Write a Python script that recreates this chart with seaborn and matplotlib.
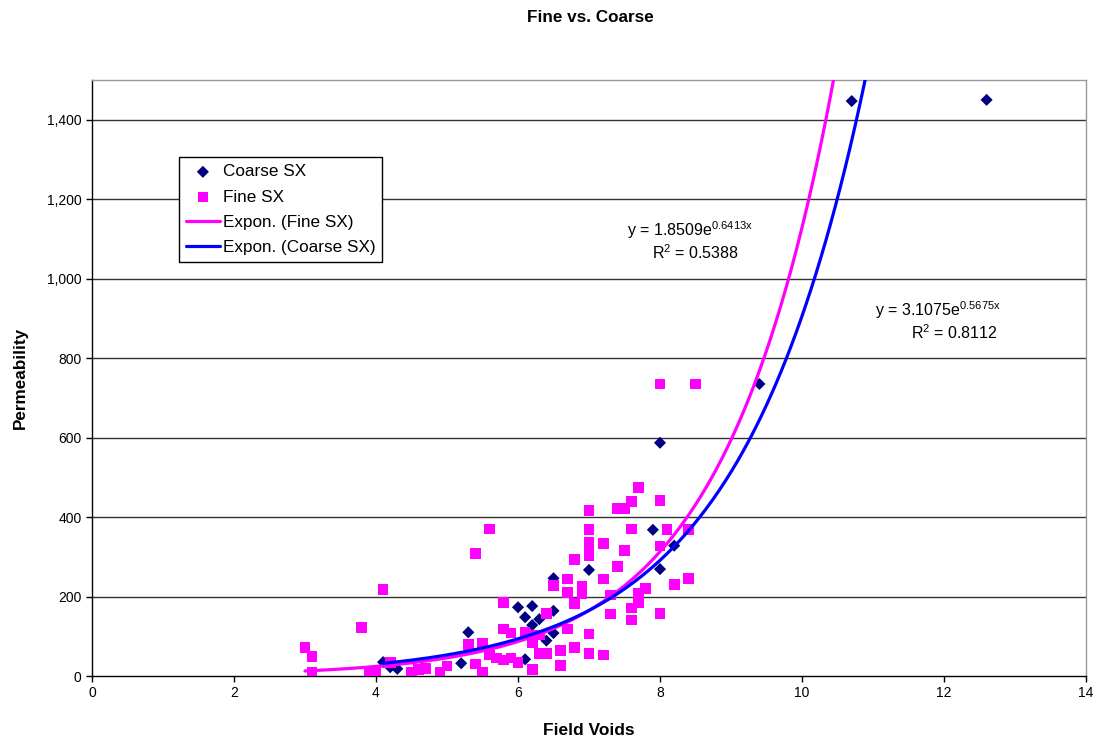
import numpy as np
import pandas as pd
import matplotlib
matplotlib.use("Agg")
import matplotlib.pyplot as plt
import seaborn as sns
from matplotlib.ticker import FuncFormatter

# Coarse SX samples (field voids, permeability)
coarse_x = [4.1, 4.2, 4.3, 5.2, 5.3, 6.0, 6.1, 6.1, 6.2, 6.2, 6.3, 6.4,
            6.5, 6.5, 6.5, 7.0, 7.9, 8.0, 8.0, 8.2, 9.4, 10.7, 12.6]
coarse_y = [35, 22, 18, 32, 110, 173, 148, 42, 176, 128, 143, 89,
            164, 108, 246, 267, 368, 587, 269, 328, 735, 1447, 1450]

# Fine SX samples
fine_x = [3.0, 3.1, 3.1, 3.8, 3.9, 4.0, 4.1, 4.2, 4.5, 4.6, 4.7, 4.9, 5.0,
          5.3, 5.4, 5.4, 5.5, 5.5, 5.6, 5.6, 5.7, 5.8, 5.8, 5.8, 5.9, 5.9,
          6.0, 6.1, 6.2, 6.2, 6.2, 6.3, 6.3, 6.4, 6.4, 6.5, 6.6, 6.6, 6.7,
          6.7, 6.7, 6.8, 6.8, 6.8, 6.9, 6.9, 7.0, 7.0, 7.0, 7.0, 7.0, 7.0,
          7.0, 7.2, 7.2, 7.2, 7.3, 7.3, 7.4, 7.4, 7.5, 7.5, 7.6, 7.6, 7.6,
          7.6, 7.7, 7.7, 7.7, 7.8, 8.0, 8.0, 8.0, 8.0, 8.1, 8.2, 8.4, 8.4, 8.5]
fine_y = [72, 49, 9, 123, 11, 9, 218, 34, 9, 17, 19, 9, 25,
          80, 309, 30, 82, 9, 370, 53, 45, 185, 118, 40, 108, 45,
          34, 109, 101, 84, 17, 103, 57, 158, 57, 227, 64, 26, 244,
          210, 118, 294, 183, 72, 225, 208, 416, 368, 336, 319, 302, 106,
          57, 333, 244, 53, 204, 156, 421, 275, 421, 316, 439, 370, 171,
          141, 475, 208, 185, 221, 735, 442, 327, 158, 368, 231, 368, 246, 735]

# exponential trendline coefficients shown on the chart
fine_a, fine_b, fine_r2 = 1.8509, 0.6413, 0.5388
coarse_a, coarse_b, coarse_r2 = 3.1075, 0.5675, 0.8112

x_ticks = list(range(0, 15, 2))
y_ticks = list(range(0, 1401, 200))

coarse_df = pd.DataFrame({"Field Voids": coarse_x, "Permeability": coarse_y})
fine_df = pd.DataFrame({"Field Voids": fine_x, "Permeability": fine_y})

fine_tx = np.linspace(min(fine_x), 10.6, 300)
coarse_tx = np.linspace(min(coarse_x), 11.0, 300)
fine_trend = pd.DataFrame({"x": fine_tx, "y": fine_a * np.exp(fine_b * fine_tx)})
coarse_trend = pd.DataFrame({"x": coarse_tx, "y": coarse_a * np.exp(coarse_b * coarse_tx)})

sns.set_style("white")
plt.rcParams["font.family"] = ["Liberation Sans", "DejaVu Sans"]
plt.rcParams["mathtext.fontset"] = "custom"
plt.rcParams["mathtext.rm"] = "Liberation Sans"
plt.rcParams["text.color"] = "black"
plt.rcParams["axes.labelcolor"] = "black"
plt.rcParams["xtick.color"] = "black"
plt.rcParams["ytick.color"] = "black"

fig = plt.figure(figsize=(10.99, 7.38), dpi=100)
ax = fig.add_axes([92 / 1099, 1 - 676 / 738, 994 / 1099, 596 / 738])

for yv in y_ticks[1:]:
    ax.axhline(yv, color="#333333", lw=1.0, zorder=0)

sns.scatterplot(data=coarse_df, x="Field Voids", y="Permeability", ax=ax,
                marker="D", s=38, color="#000080", edgecolor="none",
                label="Coarse SX", zorder=3)
sns.scatterplot(data=fine_df, x="Field Voids", y="Permeability", ax=ax,
                marker="s", s=60, color="#FF00FF", edgecolor="none",
                label="Fine SX", zorder=3)
sns.lineplot(data=fine_trend, x="x", y="y", ax=ax, color="#FF00FF", lw=2.3,
             label="Expon. (Fine SX)", zorder=4)
sns.lineplot(data=coarse_trend, x="x", y="y", ax=ax, color="#0000FF", lw=2.3,
             label="Expon. (Coarse SX)", zorder=5)

ax.set_xlim(0, 14)
ax.set_ylim(0, 1500)
ax.set_xticks(x_ticks)
ax.set_yticks(y_ticks)
ax.yaxis.set_major_formatter(FuncFormatter(lambda v, p: f"{int(v):,}"))
ax.tick_params(axis="both", labelsize=10, length=4, width=1, color="black",
               labelcolor="black", direction="out", bottom=True, left=True)

for side in ["left", "bottom"]:
    ax.spines[side].set_color("black")
    ax.spines[side].set_linewidth(1.0)
for side in ["top", "right"]:
    ax.spines[side].set_visible(True)
    ax.spines[side].set_color("#999999")
    ax.spines[side].set_linewidth(1.0)

ax.set_xlabel("Field Voids", fontsize=12.5, fontweight="bold", labelpad=16)
ax.set_ylabel("Permeability", fontsize=12.3, fontweight="bold", labelpad=14)
fig.suptitle("Fine vs. Coarse", fontsize=12.3, fontweight="bold", y=0.987, x=0.537)

eq_fs = 11.5
ax.text(8.42, 1123, f"y = {fine_a}e$^{{\\mathrm{{{fine_b}x}}}}$", fontsize=eq_fs, ha="center", va="center")
ax.text(8.5, 1066, f"R$^{{\\mathrm{{2}}}}$ = {fine_r2}", fontsize=eq_fs, ha="center", va="center")
ax.text(11.92, 922, f"y = {coarse_a}e$^{{\\mathrm{{{coarse_b}x}}}}$", fontsize=eq_fs, ha="center", va="center")
ax.text(12.15, 864, f"R$^{{\\mathrm{{2}}}}$ = {coarse_r2}", fontsize=eq_fs, ha="center", va="center")

leg = ax.legend(loc="upper left", bbox_to_anchor=(0.0875, 0.87), borderaxespad=0,
                fontsize=12.3, frameon=True, fancybox=False, framealpha=1,
                edgecolor="black", handlelength=2.0, labelspacing=0.6,
                borderpad=0.4, handletextpad=0.15)
leg.get_frame().set_linewidth(1.0)

fig.savefig("out.png", dpi=100)
